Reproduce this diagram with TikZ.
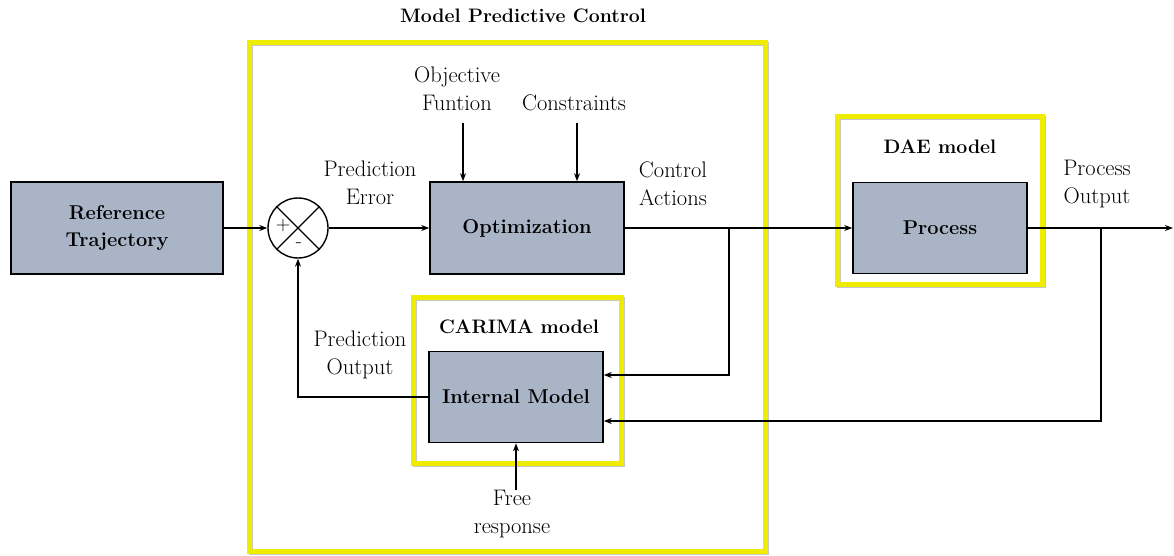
\documentclass[tikz,border=0pt]{standalone}
\usetikzlibrary{arrows.meta,calc}
\definecolor{boxfill}{RGB}{170,180,199}
\definecolor{frameyellow}{RGB}{240,236,0}
\begin{document}
\begin{tikzpicture}[x=1pt,y=-1pt,
  txt/.style={font=\fontsize{22.5}{28}\selectfont, align=center, inner sep=0pt},
  btxt/.style={font=\fontsize{19.5}{28}\selectfont\bfseries, align=center, inner sep=0pt},
  block/.style={draw=black, line width=1.6pt, fill=boxfill, inner sep=0pt,
                font=\fontsize{20}{27}\selectfont\bfseries, align=center},
  frame/.style={draw=frameyellow, line width=5pt, inner sep=0pt,
                preaction={draw=black!22, line width=4pt, transform canvas={shift={(1.5pt,-1.5pt)}}}},
  flow/.style={line width=1.4pt, -{Stealth[length=8pt,width=6pt]}},
  wire/.style={line width=1.4pt}]
\useasboundingbox (0,0) rectangle (1174,556);

% yellow grouping frames
\node[frame, minimum width=516pt, minimum height=508pt] (mpcframe) at (507,297) {};
\node[frame, minimum width=208pt, minimum height=166pt] (carimaframe) at (517,380) {};
\node[frame, minimum width=205pt, minimum height=167pt] (daeframe) at (939.5,200.5) {};

% frame titles
\node[btxt] (mpctitle) at (523,16) {Model Predictive Control};
\node[btxt] (carimatitle) at (519,327) {CARIMA model};
\node[btxt] (daetitle) at (940,147) {DAE model};

% blocks
\node[block, minimum width=212pt, minimum height=92pt] (ref) at (117,228) {Reference\\Trajectory};
\node[block, minimum width=194pt, minimum height=92pt] (opt) at (527,228) {Optimization};
\node[block, minimum width=174pt, minimum height=91pt] (proc) at (940,228) {Process};
\node[block, minimum width=174pt, minimum height=91pt] (im) at (516,397) {Internal Model};

% summing junction
\node[circle, draw=black, line width=1.4pt, fill=white, minimum size=60pt, inner sep=0pt] (sum) at (298,228) {};
\draw[line width=1.2pt] (sum.north west) -- (sum.south east);
\draw[line width=1.2pt] (sum.north east) -- (sum.south west);
\node[font=\fontsize{20}{20}\selectfont, inner sep=0pt] (plus) at (283,226) {+};
\node[font=\fontsize{20}{20}\selectfont, inner sep=0pt] (minus) at (299,245) {-};

% signal labels
\node[txt] (perr) at (370,183) {Prediction\\Error};
\node[txt] (objf) at (457,89) {Objective\\Funtion};
\node[txt] (cons) at (574,103) {Constraints};
\node[txt] (cact) at (673,184) {Control\\Actions};
\node[txt] (pout) at (1097,184) {Process\\Output};
\node[txt] (predout) at (360,355) {Prediction\\Output};
\node[txt] (free) at (512,514) {Free\\response};

% auxiliary points
\coordinate (objin) at (463,123);
\coordinate (consin) at (577,123);
\coordinate (ctrlsplit) at (729,228);
\coordinate (outsplit) at (1101,228);
\coordinate (outend) at (1173,228);
\coordinate (freein) at (516,490);

% connectors
\draw[flow] (ref.east) -- (sum.west);
\draw[flow] (sum.east) -- (opt.west);
\draw[flow] (objin) -- (objin |- opt.north);
\draw[flow] (consin) -- (consin |- opt.north);
\draw[flow] (opt.east) -- (proc.west);
\draw[flow] (proc.east) -- (outend);
\draw[flow] (ctrlsplit) |- ([yshift=22pt]im.east);
\draw[flow] (outsplit) |- ([yshift=-24pt]im.east);
\draw[flow] (im.west) -| (sum.south);
\draw[flow] (freein) -- (im.south);
\end{tikzpicture}
\end{document}
